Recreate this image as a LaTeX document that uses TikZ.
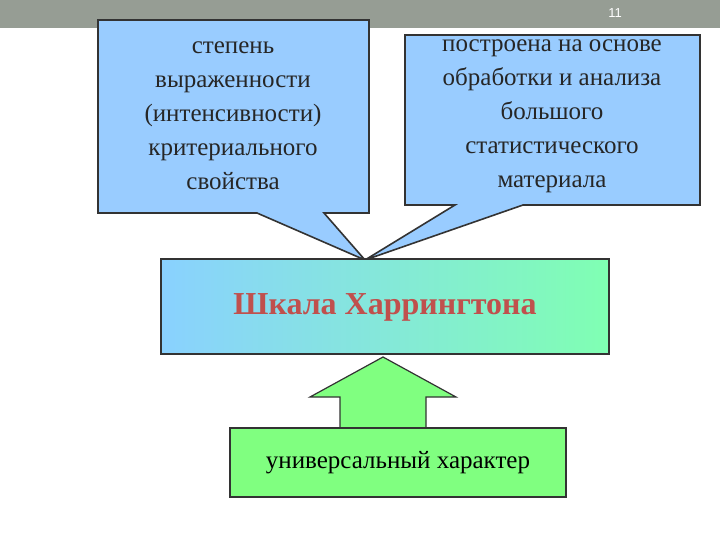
\documentclass[tikz,border=0pt]{standalone}
\usepackage{fontspec}
\setmainfont{Liberation Serif}
\newfontfamily\sansf{Liberation Sans}
\begin{document}
\begin{tikzpicture}[x=1pt,y=-1pt,
  call/.style={fill=callblue,draw=black!80,line width=1.6pt,line join=miter},
  txt/.style={font=\fontsize{25}{34}\selectfont,align=center,text=black!85,inner sep=0pt}]
\definecolor{callblue}{HTML}{99CCFF}
\definecolor{barg}{HTML}{969D94}
\definecolor{grn}{HTML}{80FF80}
\definecolor{redt}{HTML}{C0504D}
\useasboundingbox (0,0) rectangle (720,540);
\fill[white] (0,0) rectangle (720,540);
\fill[barg] (0,0) rectangle (720,28);
\node[text=white,font=\sansf\fontsize{13}{14}\selectfont] (pn) at (615,13) {11};
% left callout
\draw[call] (98,20) -- (369,20) -- (369,213) -- (324,213) -- (365,260) -- (257,213) -- (98,213) -- cycle;
\node[txt] (lt) at (233,116) {степень\\выраженности\\(интенсивности)\\критериального\\свойства};
% right callout
\draw[call] (405,35) -- (700,35) -- (700,205) -- (523,205) -- (365,260) -- (455,205) -- (405,205) -- cycle;
\node[txt] (rt) at (552,116) {построена на основе\\обработки и анализа\\большого\\статистического\\материала};
% main box
\shade[left color=callblue!90!cyan, right color=cyan!40!green!50!white] (161,259) rectangle (609,354);
\draw[black!80,line width=1.2pt] (161,259) rectangle (609,354);
\node[text=redt,font=\bfseries\fontsize{32}{36}\selectfont] (main) at (385,307) {Шкала Харрингтона};
% up arrow
\draw[fill=grn,draw=black!80,line width=1.2pt] (340,428) -- (340,397) -- (310,397) -- (383,357) -- (456,397) -- (426,397) -- (426,428);
\node[draw=black!80,fill=grn,line width=1.2pt,minimum width=336pt,minimum height=69pt,inner sep=0pt,font=\fontsize{25}{28}\selectfont] (uni) at (398,462.5) {универсальный характер};
\end{tikzpicture}
\end{document}
